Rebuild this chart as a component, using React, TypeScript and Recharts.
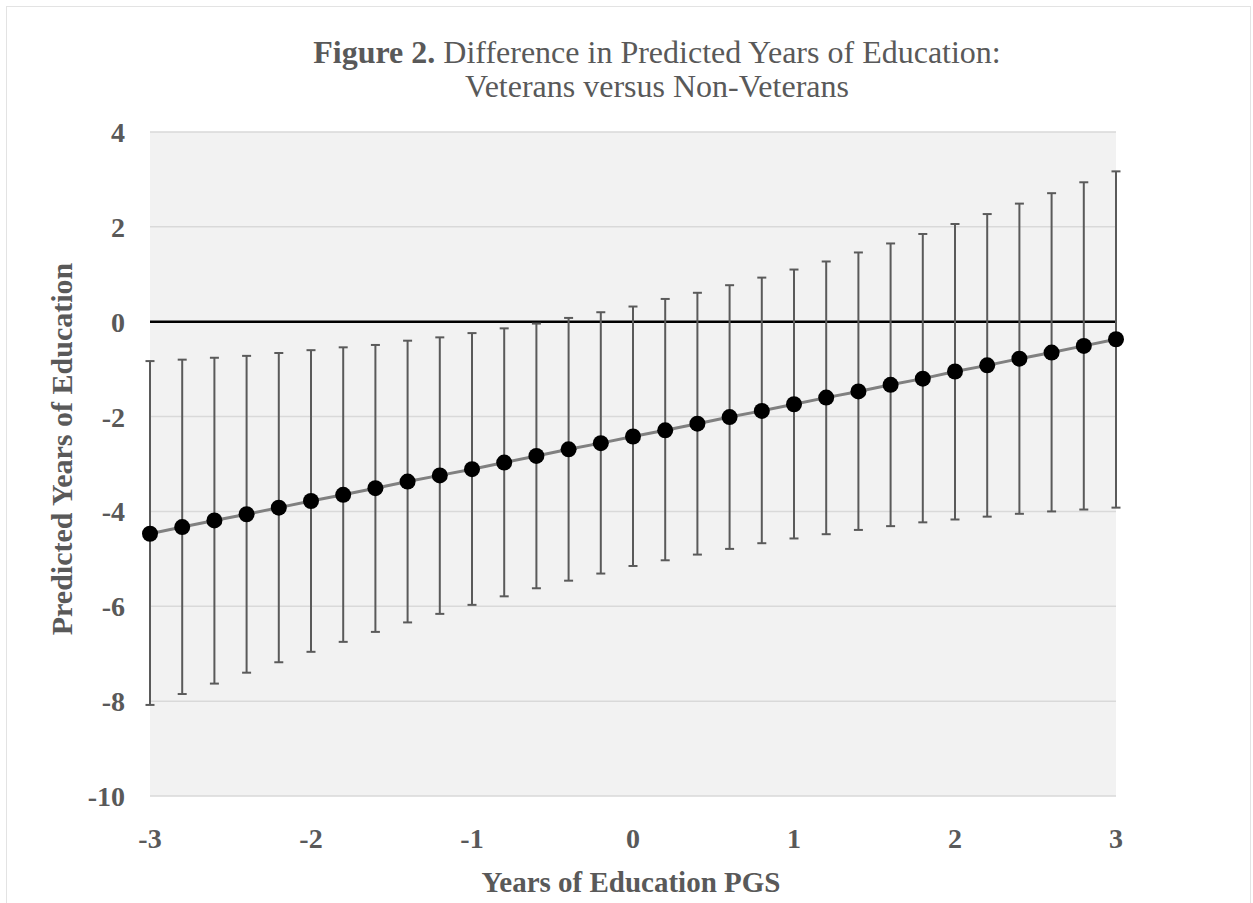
import React from 'react';
import {
  ComposedChart,
  Line,
  XAxis,
  YAxis,
  CartesianGrid,
  ReferenceLine,
  ErrorBar,
} from 'recharts';

const pgsValues = [
  -3, -2.8, -2.6, -2.4, -2.2, -2, -1.8, -1.6, -1.4, -1.2, -1, -0.8, -0.6, -0.4, -0.2, 0,
  0.2, 0.4, 0.6, 0.8, 1, 1.2, 1.4, 1.6, 1.8, 2, 2.2, 2.4, 2.6, 2.8, 3,
];

const predictedDiff = [
  -4.47, -4.33, -4.19, -4.06, -3.92, -3.78, -3.65, -3.51, -3.37, -3.24, -3.11, -2.97, -2.83,
  -2.69, -2.56, -2.42, -2.29, -2.15, -2.01, -1.88, -1.74, -1.6, -1.47, -1.33, -1.2, -1.05,
  -0.92, -0.78, -0.65, -0.51, -0.37,
];

const upperBound = [
  -0.83, -0.8, -0.76, -0.72, -0.66, -0.6, -0.54, -0.49, -0.4, -0.33, -0.24, -0.14, -0.04,
  0.08, 0.2, 0.32, 0.48, 0.61, 0.77, 0.93, 1.1, 1.27, 1.46, 1.65, 1.85, 2.06, 2.27, 2.49,
  2.71, 2.94, 3.17,
];

const lowerBound = [
  -8.08, -7.85, -7.63, -7.4, -7.18, -6.96, -6.75, -6.54, -6.34, -6.16, -5.97, -5.79, -5.62,
  -5.46, -5.31, -5.15, -5.03, -4.91, -4.79, -4.67, -4.57, -4.48, -4.39, -4.31, -4.23, -4.17,
  -4.11, -4.05, -4.0, -3.96, -3.92,
];

const xTicks = [-3, -2, -1, 0, 1, 2, 3];
const yTicks = [-10, -8, -6, -4, -2, 0, 2, 4];

const titleBold = 'Figure 2.';
const titleLine1 = ' Difference in Predicted Years of Education:';
const titleLine2 = 'Veterans versus Non-Veterans';
const xTitle = 'Years of Education PGS';
const yTitle = 'Predicted Years of Education';

const data = pgsValues.map((x, i) => ({
  x,
  mean: predictedDiff[i],
  err: [predictedDiff[i] - lowerBound[i], upperBound[i] - predictedDiff[i]],
}));

const FONT = '"Liberation Serif", "Times New Roman", Times, serif';
const TEXT = '#595959';

export default function App() {
  return (
    <div style={{ position: 'absolute', left: 0, top: 0, width: 1253, height: 903 }}>
      <div
        style={{
          position: 'absolute',
          left: 6,
          top: 6,
          width: 1245,
          height: 897,
          borderTop: '1px solid #e3e3e3',
          borderLeft: '1px solid #e3e3e3',
          borderRight: '1px solid #e3e3e3',
          boxSizing: 'border-box',
        }}
      />
      <div style={{ position: 'absolute', left: 0, top: 0 }}>
        <ComposedChart
          width={1253}
          height={903}
          data={data}
          margin={{ top: 132, right: 137, bottom: 47, left: 0 }}
        >
          <CartesianGrid vertical={false} stroke="#d9d9d9" strokeWidth={1.5} fill="#f2f2f2" />
          <XAxis
            dataKey="x"
            type="number"
            domain={[-3, 3]}
            ticks={xTicks}
            axisLine={false}
            tickLine={false}
            tickSize={0}
            tickMargin={32}
            height={60}
            tick={{ fill: TEXT, fontSize: 28, fontWeight: 'bold', fontFamily: FONT }}
          />
          <YAxis
            type="number"
            domain={[-10, 4]}
            ticks={yTicks}
            axisLine={false}
            tickLine={false}
            tickSize={0}
            tickMargin={25}
            width={150}
            tick={{ fill: TEXT, fontSize: 28, fontWeight: 'bold', fontFamily: FONT }}
          />
          <ReferenceLine y={0} stroke="#000000" strokeWidth={2.5} />
          <Line
            dataKey="mean"
            type="linear"
            stroke="#808080"
            strokeWidth={3}
            dot={{ r: 8, fill: '#000000', stroke: 'none' }}
            activeDot={false}
            isAnimationActive={false}
          >
            <ErrorBar
              dataKey="err"
              direction="y"
              width={4.5}
              stroke="#5a5a5a"
              strokeWidth={2}
              isAnimationActive={false}
            />
          </Line>
        </ComposedChart>
      </div>
      <svg
        width={1253}
        height={903}
        style={{ position: 'absolute', left: 0, top: 0, pointerEvents: 'none' }}
      >
        <text x={657} y={63} textAnchor="middle" fontFamily={FONT} fontSize={32} fill={TEXT}>
          <tspan fontWeight="bold">{titleBold}</tspan>
          <tspan>{titleLine1}</tspan>
        </text>
        <text x={657} y={97} textAnchor="middle" fontFamily={FONT} fontSize={32} fill={TEXT}>
          {titleLine2}
        </text>
        <text
          x={631}
          y={892}
          textAnchor="middle"
          fontFamily={FONT}
          fontSize={29}
          fontWeight="bold"
          fill={TEXT}
        >
          {xTitle}
        </text>
        <text
          x={72}
          y={449}
          transform="rotate(-90 72 449)"
          textAnchor="middle"
          fontFamily={FONT}
          fontSize={30}
          fontWeight="bold"
          fill={TEXT}
        >
          {yTitle}
        </text>
      </svg>
    </div>
  );
}
